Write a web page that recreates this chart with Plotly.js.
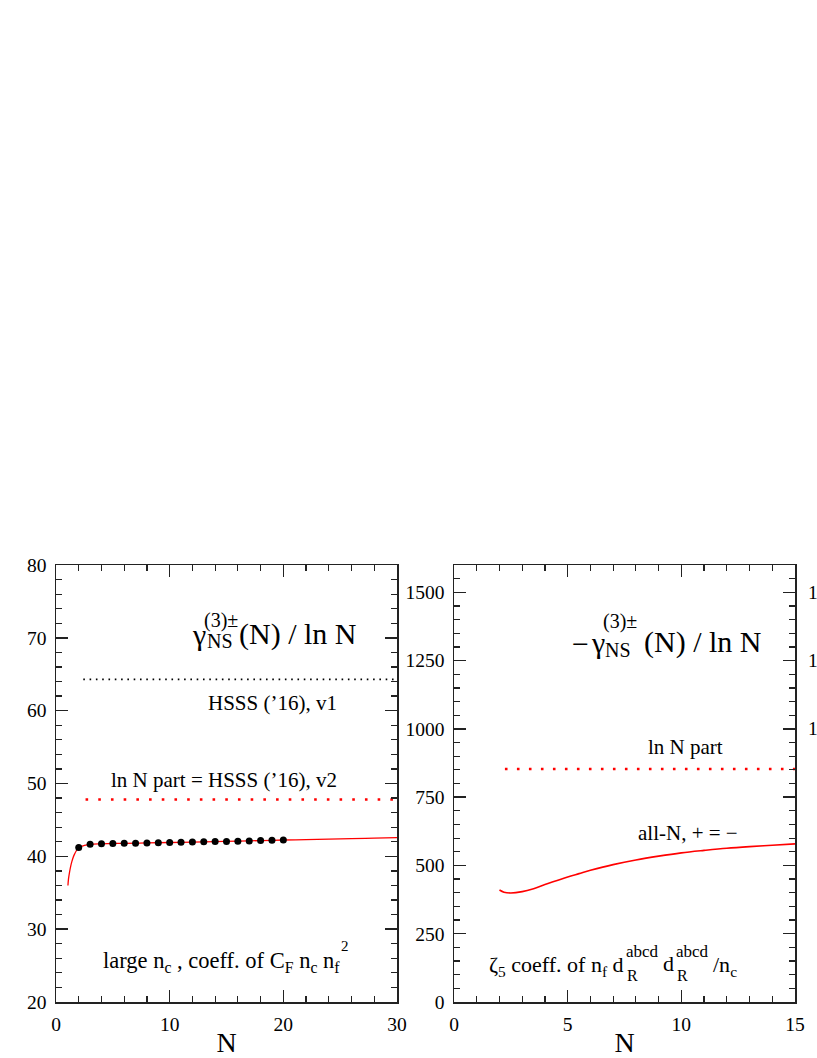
<!DOCTYPE html>
<html>
<head>
<meta charset="utf-8">
<script src="https://cdn.plot.ly/plotly-3.0.1.min.js"></script>
<style>html,body{margin:0;padding:0;background:#fff;}</style>
</head>
<body>
<div id="chart" style="width:817px;height:1058px;"></div>
<script>
// ---------- data ----------
// left panel: large n_c, coeff. of C_F n_c n_f^2
const leftCurveN = [1.05, 1.1, 1.2, 1.3, 1.4, 1.5, 1.6, 1.8, 2, 2.5, 3, 4, 5, 6, 8, 10, 12, 14, 16, 18, 20, 22, 24, 26, 28, 30];
const leftCurveY = [36.0, 36.9, 37.9, 38.7, 39.3, 39.8, 40.2, 40.8, 41.2, 41.5, 41.65, 41.72, 41.76, 41.79, 41.84, 41.9, 41.96, 42.02, 42.08, 42.16, 42.24, 42.3, 42.37, 42.44, 42.5, 42.56];
const leftDotsN = [2, 3, 4, 5, 6, 7, 8, 9, 10, 11, 12, 13, 14, 15, 16, 17, 18, 19, 20];
const leftDotsY = [41.2, 41.65, 41.72, 41.75, 41.78, 41.8, 41.83, 41.86, 41.9, 41.93, 41.96, 41.99, 42.02, 42.05, 42.08, 42.12, 42.16, 42.2, 42.24];
const hsssV1N = [2.4, 30];
const hsssV1Y = [64.3, 64.3];
const lnNPartLeftN = [2.6, 30];
const lnNPartLeftY = [47.8, 47.8];

// right panel: zeta_5 coeff. of n_f d_R d_R / n_c
const rightCurveN = [2.0, 2.2, 2.5, 3, 3.5, 4, 4.5, 5, 5.5, 6, 7, 8, 9, 10, 11, 12, 13, 14, 15];
const rightCurveY = [410, 402, 399, 404, 415, 430, 444, 458, 470, 482, 503, 520, 534, 546, 555, 563, 569, 574, 579];
const lnNPartRightN = [2.24, 15];
const lnNPartRightY = [853, 853];

// tick labels of the third (cut-off) panel
const thirdPanelTicks = ['1500', '1250', '1000'];
const thirdPanelTickVals = [1500, 1250, 1000];

// ---------- layout helpers ----------
const SERIF = 'Liberation Serif';
const W = 817, H = 1058, ML = 56, MR = 22, MT = 565, MB = 56;
const PW = W - ML - MR, PH = H - MT - MB;
function px(x) { return (x - ML) / PW; }
function py(y) { return (H - MB - y) / PH; }
function ann(text, x, y, size, xanchor) {
  return {xref: 'paper', yref: 'paper', x: px(x), y: py(y), text: text, showarrow: false,
          xanchor: xanchor || 'left', yanchor: 'middle', borderpad: 0,
          font: {family: SERIF, size: size, color: '#000'}};
}

const axisCommon = {
  showline: true, linecolor: '#222', linewidth: 1.5, mirror: 'ticks',
  ticks: 'inside', ticklen: 12, tickwidth: 1.5, tickcolor: '#222',
  showgrid: false, zeroline: false, ticklabelstandoff: 4,
  tickfont: {family: SERIF, size: 19.5, color: '#000'},
};

const traces = [
  {x: hsssV1N, y: hsssV1Y, xaxis: 'x', yaxis: 'y', mode: 'lines',
   line: {color: '#000', width: 1.6, dash: '1.6px,4.7px'}, hoverinfo: 'skip'},
  {x: lnNPartLeftN, y: lnNPartLeftY, xaxis: 'x', yaxis: 'y', mode: 'lines',
   line: {color: '#ff0000', width: 2.6, dash: '2.6px,10.1px'}, hoverinfo: 'skip'},
  {x: leftCurveN, y: leftCurveY, xaxis: 'x', yaxis: 'y', mode: 'lines',
   line: {color: '#ff0000', width: 1.3, shape: 'spline'}, hoverinfo: 'skip'},
  {x: leftDotsN, y: leftDotsY, xaxis: 'x', yaxis: 'y', mode: 'markers',
   marker: {color: '#000', size: 7}, hoverinfo: 'skip'},
  {x: lnNPartRightN, y: lnNPartRightY, xaxis: 'x2', yaxis: 'y2', mode: 'lines',
   line: {color: '#ff0000', width: 2.6, dash: '2.6px,9.4px'}, hoverinfo: 'skip'},
  {x: rightCurveN, y: rightCurveY, xaxis: 'x2', yaxis: 'y2', mode: 'lines',
   line: {color: '#ff0000', width: 1.6, shape: 'spline'}, hoverinfo: 'skip'},
];

const annotations = [
  // left title
  ann('γ', 191, 634, 30),
  ann('(3)±', 203, 620, 20),
  ann('NS', 206, 641, 20),
  ann('(N) / ln N', 357, 634, 30, 'right'),
  ann("HSSS (’16), v1", 272, 703, 21, 'center'),
  ann("ln N part = HSSS (’16), v2", 224, 780, 21, 'center'),
  // left bottom label
  ann('large n<sub>c</sub> , coeff. of C<sub>F</sub> n<sub>c</sub> n<sub>f</sub>', 102, 962, 22.5),
  ann('2', 340, 946, 15),
  // right title
  ann('−', 590, 643, 30, 'right'),
  ann('γ', 590, 642, 30),
  ann('(3)±', 602, 621, 20),
  ann('NS', 604, 650, 20),
  ann('(N) / ln N', 762, 642, 30, 'right'),
  ann('ln N part', 647, 747, 21),
  ann('all-N, + = −', 637, 833, 21),
  // right bottom label, pieces with stacked sub/superscripts
  ann('ζ<sub>5</sub> coeff. of n<sub>f</sub> d', 488, 966, 22),
  ann('R', 626, 975, 16),
  ann('abcd', 625, 951, 17),
  ann('d', 662, 963, 22),
  ann('R', 676, 975, 16),
  ann('abcd', 675, 951, 17),
  ann('/n<sub>c</sub>', 712, 966, 22),
];
thirdPanelTicks.forEach(function (t, i) {
  const yy = 1002 - thirdPanelTickVals[i] * (437 / 1600);
  annotations.push(ann(t, 807, yy, 19.5));
});

const layout = {
  width: W, height: H,
  margin: {l: ML, r: MR, t: MT, b: MB, pad: 0},
  paper_bgcolor: '#fff', plot_bgcolor: '#fff',
  showlegend: false,
  xaxis: Object.assign({}, axisCommon, {
    domain: [0, 341 / PW], range: [0, 30], dtick: 10, tick0: 0,
    minor: {dtick: 2, ticks: 'inside', ticklen: 6, tickwidth: 1.2, tickcolor: '#222'},
    title: {text: 'N', font: {family: SERIF, size: 28, color: '#000'}, standoff: 4},
    anchor: 'y'
  }),
  yaxis: Object.assign({}, axisCommon, {
    domain: [0, 1], range: [20, 80], dtick: 10, tick0: 0,
    minor: {dtick: 2, ticks: 'inside', ticklen: 6, tickwidth: 1.2, tickcolor: '#222'},
    anchor: 'x'
  }),
  xaxis2: Object.assign({}, axisCommon, {
    domain: [398 / PW, 1], range: [0, 15], dtick: 5, tick0: 0,
    minor: {dtick: 1, ticks: 'inside', ticklen: 6, tickwidth: 1.2, tickcolor: '#222'},
    title: {text: 'N', font: {family: SERIF, size: 28, color: '#000'}, standoff: 4},
    anchor: 'y2'
  }),
  yaxis2: Object.assign({}, axisCommon, {
    domain: [0, 1], range: [0, 1600], dtick: 250, tick0: 0,
    minor: {dtick: 50, ticks: 'inside', ticklen: 6, tickwidth: 1.2, tickcolor: '#222'},
    anchor: 'x2'
  }),
  annotations: annotations
};

Plotly.newPlot('chart', traces, layout, {staticPlot: true, displayModeBar: false});
</script>
</body>
</html>
